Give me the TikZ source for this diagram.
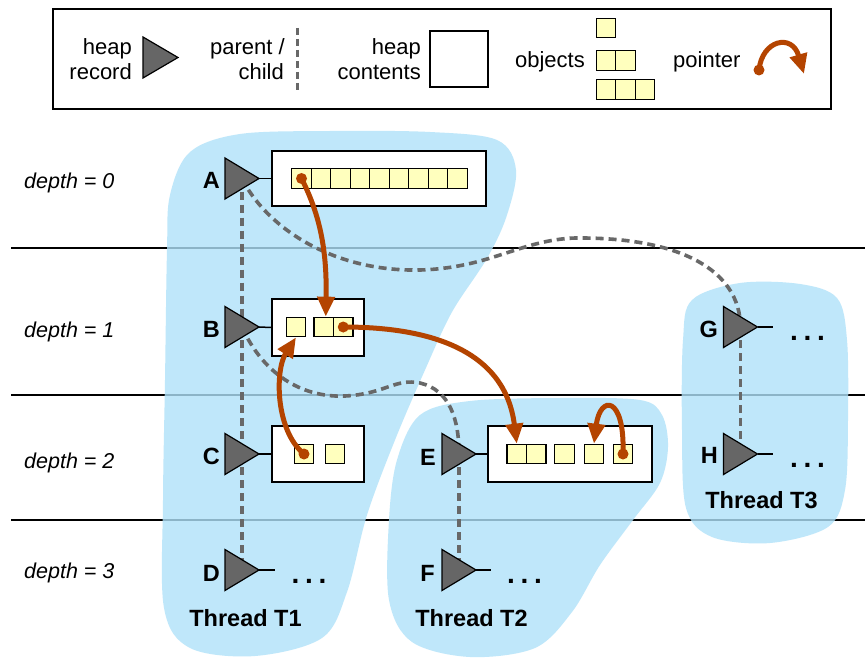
\documentclass[tikz,border=0pt]{standalone}
\usepackage{fontspec}
\setmainfont{Liberation Sans}
\usetikzlibrary{arrows.meta,calc}
\definecolor{threadblue}{RGB}{176,226,249}
\definecolor{objfill}{RGB}{255,255,190}
\definecolor{ptrcol}{RGB}{180,68,0}
\definecolor{recgray}{RGB}{102,102,102}
\definecolor{dashgray}{RGB}{104,104,104}

\begin{document}
\begin{tikzpicture}[x=1pt,y=-1pt,
  txt/.style={font=\fontsize{22}{25}\selectfont, inner sep=0pt},
  depthlbl/.style={font=\fontsize{21.5}{25}\selectfont\itshape, inner sep=0pt, anchor=west},
  reclbl/.style={font=\fontsize{23.5}{26}\selectfont\bfseries, inner sep=0pt, anchor=base east},
  threadlbl/.style={font=\fontsize{23.5}{26}\selectfont\bfseries, inner sep=0pt, anchor=base},
  dots/.style={font=\fontsize{28}{30}\selectfont\bfseries, inner sep=0pt, anchor=base},
  obj/.style={draw, fill=objfill, minimum size=19.5pt, inner sep=0pt, line width=1.2pt},
  heapbox/.style={draw, fill=white, line width=1.5pt, inner sep=0pt},
  recshape/.style={fill=recgray, draw=black, line width=1.2pt, line join=miter},
  tail/.style={line width=1.5pt},
  pc/.style={dashgray, line width=3.6pt, dash pattern=on 8pt off 5pt},
  ptrline/.style={ptrcol, line width=5pt, -{Triangle[length=20pt, width=17pt]}},
  ptrdot/.style={fill=ptrcol},
  thread/.style={fill=threadblue, fill opacity=0.8}
]
\useasboundingbox[fill=white] (0,0) rectangle (865,658);

% depth rules
\foreach \yy in {248,395,520} \draw[line width=1.8pt] (11,\yy) -- (865,\yy);

% thread regions
\fill[thread] plot[smooth cycle, tension=0.55] coordinates {
  (167,250) (170,195) (190,152) (240,134) (330,131) (430,132) (497,140)
  (516,170) (506,218) (486,260) (452,312) (425,370) (395,440) (367,515)
  (347,592) (322,638) (255,656) (190,648) (164,608) (163,500) (165,380)};
\fill[thread] plot[smooth cycle, tension=0.55] coordinates {
  (397,460) (420,415) (470,401) (560,398) (640,400) (662,415) (668,447)
  (660,483) (633,520) (600,565) (572,612) (535,648) (470,657) (412,642)
  (389,600) (389,520)};
\fill[thread] plot[smooth cycle, tension=0.55] coordinates {
  (683,340) (692,300) (740,283) (800,284) (837,298) (847,340) (848,420)
  (845,490) (828,527) (770,543) (712,537) (686,508) (682,430)};

% depth labels
\node[depthlbl] (d0) at (24,183) {depth = 0};
\node[depthlbl] (d1) at (24,332) {depth = 1};
\node[depthlbl] (d2) at (24,463) {depth = 2};
\node[depthlbl] (d3) at (24,573) {depth = 3};

% legend
\node[draw, line width=1.5pt, fill=white, minimum width=778pt, minimum height=100pt, inner sep=0pt] (legend) at (442,59) {};
\node[txt, anchor=base east] at (132,55) {heap};
\node[txt, anchor=base east] at (132,80) {record};
\coordinate (lrec) at (160.5,57.5);
\filldraw[recshape] ($(lrec)+(-17.5,-20.5)$) -- ($(lrec)+(17.5,0)$) -- ($(lrec)+(-17.5,20.5)$) -- cycle;
\node[txt, anchor=base east] at (285,55) {parent /};
\node[txt, anchor=base east] at (284,80) {child};
\coordinate (lpc1) at (297,28);
\coordinate (lpc2) at (297,93);
\draw[pc, line width=3pt, dash pattern=on 7pt off 4pt] (lpc1) -- (lpc2);
\node[txt, anchor=base east] at (421,54.5) {heap};
\node[txt, anchor=base east] at (421,80) {contents};
\node[heapbox, minimum width=58pt, minimum height=56pt] (lbox) at (459,59) {};
\node[txt, anchor=base east] at (585,68) {objects};
\node[obj] (l1) at (606,28) {};
\node[obj] (l2a) at (606,60.5) {};
\node[obj] (l2b) at (625.5,60.5) {};
\node[obj] (l3a) at (606,89.5) {};
\node[obj] (l3b) at (625.5,89.5) {};
\node[obj] (l3c) at (645,89.5) {};
\node[txt, anchor=base west] at (673,68) {pointer};
\coordinate (lp1) at (759,70);
\coordinate (lp2) at (804,74);
\draw[ptrline] (lp1) .. controls (762,40) and (792,33) .. (lp2);
\fill[ptrdot] (lp1) circle[radius=5.5pt];

% heap records (positions)
\coordinate (A) at (242,178.5);
\coordinate (B) at (242,327);
\coordinate (C) at (242,454);
\coordinate (D) at (242,570);
\coordinate (E) at (459,454);
\coordinate (F) at (459,570);
\coordinate (G) at (740.5,327);
\coordinate (H) at (740.5,454);

% parent / child links
\draw[pc] (A) -- (B);
\draw[pc] (B) -- (C);
\draw[pc] (C) -- (D);
\draw[pc] (E) -- (F);
\draw[pc] (G) -- (H);
\draw[pc] (A) .. controls (265,225) and (330,272) .. (420,270)
              .. controls (490,268) and (520,240) .. (575,238)
              .. controls (680,237) and (740,270) .. (G);
\draw[pc] (B) .. controls (262,372) and (300,398) .. (345,396)
              .. controls (385,394) and (395,378) .. (420,383)
              .. controls (450,390) and (459,420) .. (E);

% heap contents
\node[heapbox, minimum width=214pt, minimum height=55pt] (boxA) at (379,178.5) {};
\node[heapbox, minimum width=92pt, minimum height=57pt] (boxB) at (318,327.5) {};
\node[heapbox, minimum width=92pt, minimum height=56pt] (boxC) at (318,454) {};
\node[heapbox, minimum width=164pt, minimum height=56pt] (boxE) at (570,454) {};

% heap record triangles
\foreach \n in {A,B,C,D,E,F,G,H}
  \filldraw[recshape] ($(\n)+(-17,-20.5)$) -- ($(\n)+(17,0)$) -- ($(\n)+(-17,20.5)$) -- cycle;
\draw[tail] ($(A)+(17,0)$) -- (boxA.west);
\draw[tail] ($(B)+(17,0)$) -- (boxB.west);
\draw[tail] ($(C)+(17,0)$) -- (boxC.west);
\draw[tail] ($(E)+(17,0)$) -- (boxE.west);
\coordinate (Dt) at ($(D)+(33,0)$);
\coordinate (Ft) at ($(F)+(32,0)$);
\coordinate (Gt) at ($(G)+(32.5,0)$);
\coordinate (Ht) at ($(H)+(32.5,0)$);
\draw[tail] ($(D)+(17,0)$) -- (Dt);
\draw[tail] ($(F)+(17,0)$) -- (Ft);
\draw[tail] ($(G)+(17,0)$) -- (Gt);
\draw[tail] ($(H)+(17,0)$) -- (Ht);

% record names
\node[reclbl] (lA) at (220,189) {A};
\node[reclbl] (lB) at (220,337) {B};
\node[reclbl] (lC) at (220,464) {C};
\node[reclbl] (lD) at (220,581) {D};
\node[reclbl] (lE) at (436,465) {E};
\node[reclbl] (lF) at (435,581) {F};
\node[reclbl] (lG) at (718,337) {G};
\node[reclbl] (lH) at (718,463) {H};

% continuation dots
\node[dots] (dD) at (309,583) {.\hspace{5.7pt}.\hspace{5.7pt}.};
\node[dots] (dF) at (524.5,583) {.\hspace{5.7pt}.\hspace{5.7pt}.};
\node[dots] (dG) at (807.5,340) {.\hspace{5.7pt}.\hspace{5.7pt}.};
\node[dots] (dH) at (807.5,467) {.\hspace{5.7pt}.\hspace{5.7pt}.};

% objects
\foreach \i in {1,...,9} \node[obj] (a\i) at ({282+19.5*\i},178.5) {};
\node[obj] (b1) at (296,327) {};
\node[obj] (b2) at (323.75,327) {};
\node[obj] (b3) at (343.25,327) {};
\node[obj] (c1) at (304,454) {};
\node[obj] (c2) at (335,454) {};
\node[obj] (e1) at (516.75,454) {};
\node[obj] (e2) at (536.25,454) {};
\node[obj] (e3) at (564.5,454) {};
\node[obj] (e4) at (594,454) {};
\node[obj] (e5) at (623,454) {};

% pointers
\draw[ptrline] (a1.center) .. controls (320,215) and (327,250) .. ([xshift=2pt]b2.north);
\draw[ptrline] (b3.center) .. controls (430,327) and (505,350) .. (e1.north);
\draw[ptrline] (c1.center) .. controls (275,430) and (275,370) .. (b1.south);
\draw[ptrline] (e5.center) .. controls (625,395) and (600,395) .. (e4.north);
\foreach \s in {a1,b3,c1,e5} \fill[ptrdot] (\s.center) circle[radius=5.5pt];

% thread names
\node[threadlbl] (t1) at (245.5,626) {Thread T1};
\node[threadlbl] (t2) at (471.5,626) {Thread T2};
\node[threadlbl] (t3) at (761.5,508) {Thread T3};
\end{tikzpicture}
\end{document}
